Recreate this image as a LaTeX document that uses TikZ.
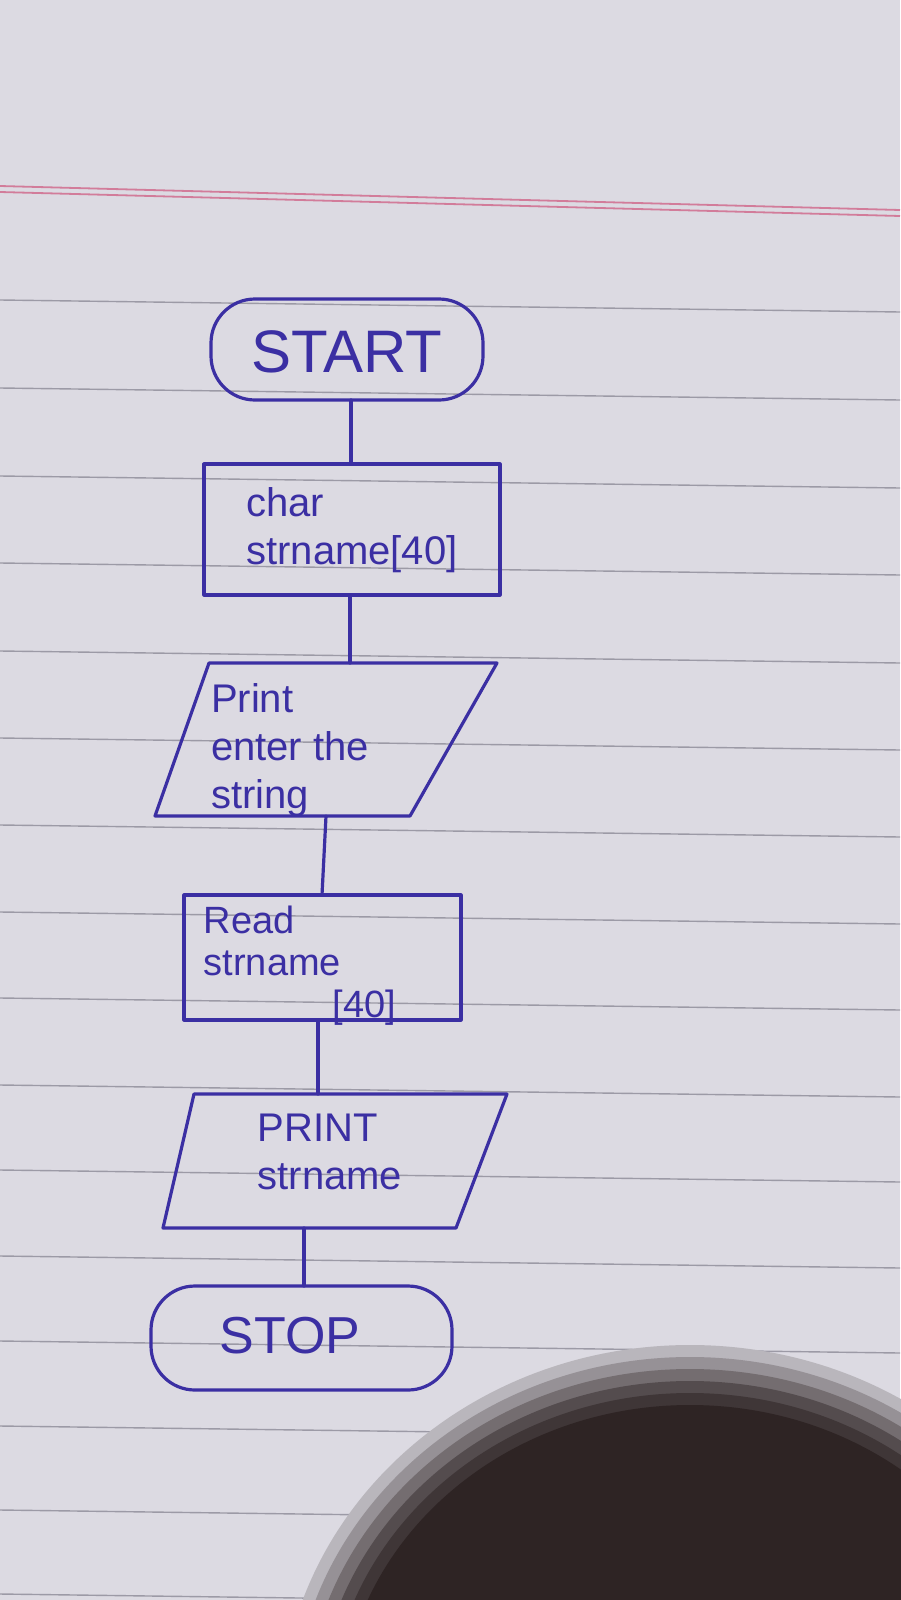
\documentclass[tikz,border=0pt]{standalone}
\usepackage{fontspec}
\setmainfont{Liberation Sans}
\usetikzlibrary{shapes.geometric,arrows.meta}
\definecolor{paper}{HTML}{DCDAE2}
\definecolor{rule}{HTML}{9C9AA6}
\definecolor{margin}{HTML}{D27C9A}
\definecolor{pen}{HTML}{3B2FA3}
\definecolor{shade}{HTML}{2E2424}
\begin{document}
\begin{tikzpicture}[x=0.5pt,y=-0.5pt,
  ink/.style={draw=pen,line width=1.6pt,line cap=round,line join=round},
  lbl/.style={text=pen,font=\fontsize{20}{24}\selectfont,align=left},
  term/.style={ink,rounded corners=22pt},
  flow/.style={ink}]
\useasboundingbox (0,0) rectangle (900,1600);
\fill[paper] (0,0) rectangle (900,1600);
% ruled lines
\foreach \y in {300,388,476,563,651,738,825,912,998,1085,1170,1256,1341,1426,1510,1594}
  \draw[rule,line width=0.7pt] (0,\y) -- (900,\y+12);
% margin line
\draw[margin,line width=0.9pt] (0,186) -- (900,210);
\draw[margin,line width=0.9pt] (0,192) -- (900,216);
% shadow (soft edge from stacked opaque ellipses)
\foreach \s/\p in {0/20,12/40,24/60,36/78,48/90,60/100}
  \fill[shade!\p!paper] (690,1725) ellipse [x radius=410-\s, y radius=380-\s];

% shapes
\draw[term] (211,299) rectangle (483,400);
\node[lbl,font=\fontsize{30}{34}\selectfont] (start) at (347,352) {START};
\coordinate (startb) at (351,400);

\draw[ink] (204,464) rectangle (500,595);
\node[lbl] (decl) at (352,530) {char\\strname[40]};
\coordinate (declt) at (351,464);
\coordinate (declb) at (350,595);

\draw[ink] (209,663) -- (497,663) -- (410,816) -- (155,816) -- cycle;
\node[lbl] (prompt) at (290,750) {Print\\enter the\\string};
\coordinate (promptt) at (350,663);
\coordinate (promptb) at (326,816);

\draw[ink] (184,895) rectangle (461,1020);
\node[lbl,font=\fontsize{19}{21}\selectfont] (read) at (300,966) {Read\\strname\\\hspace*{3.4em}[40]};
\coordinate (readt) at (322,895);
\coordinate (readb) at (318,1020);

\draw[ink] (194,1094) -- (507,1094) -- (456,1228) -- (163,1228) -- cycle;
\node[lbl] (out) at (330,1152) {PRINT\\strname};
\coordinate (outt) at (318,1094);
\coordinate (outb) at (304,1228);

\draw[term] (151,1286) rectangle (452,1390);
\node[lbl,font=\fontsize{26}{30}\selectfont] (stop) at (290,1336) {STOP};
\coordinate (stopt) at (304,1286);

% connectors
\draw[flow] (startb) -- (declt);
\draw[flow] (declb) -- (promptt);
\draw[flow] (promptb) -- (readt);
\draw[flow] (readb) -- (outt);
\draw[flow] (outb) -- (stopt);
\end{tikzpicture}
\end{document}
